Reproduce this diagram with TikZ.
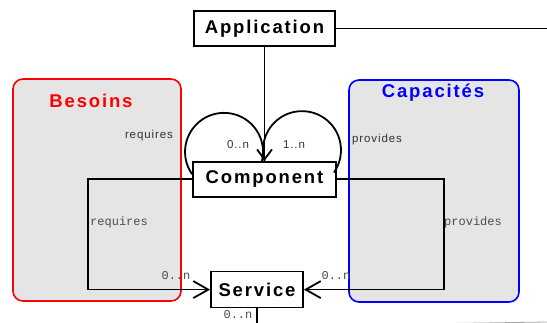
\documentclass[tikz,border=0pt]{standalone}
\usepackage{fontspec}
\setmainfont{Liberation Sans}
\setmonofont{Liberation Mono}
\newfontfamily\classfont[LetterSpace=10]{Liberation Sans}
\newfontfamily\rolefont[LetterSpace=8]{Liberation Sans}
\usetikzlibrary{positioning}
\usetikzlibrary{arrows.meta}

\begin{document}
\begin{tikzpicture}
		[x=1pt, y=1pt,
		class/.style={rectangle, draw=black, line width=1.8pt, fill=white, inner sep=0pt, minimum height=35pt, font=\classfont\bfseries\fontsize{18.5}{21}\selectfont},
		group/.style={rectangle, rounded corners=10pt, line width=1.6pt, fill=black!10, inner sep=0pt, minimum height=222pt},
		title/.style={font=\classfont\bfseries\fontsize{18.5}{21}\selectfont},
		link/.style={line width=1.8pt},
		tip/.style={-{Straight Barb[length=15pt, width=17pt]}},
		role/.style={font=\rolefont\fontsize{11.5}{13}\selectfont, text=black!80},
		mult/.style={font=\ttfamily\fontsize{12}{14}\selectfont, text=black!70, inner sep=1pt}]
		\useasboundingbox (0,0) rectangle (547,-323);
		\node[group, draw=red, minimum width=168pt] (besoins) at (97,-190) {};
		\node[group, draw=blue, minimum width=170pt] (capacites) at (434,-191) {};
		\node[title, text=red] (besoinstitle) at (91,-101) {Besoins};
		\node[title, text=blue] (capacitestitle) at (433,-93) {Capacités};

		\node[class, minimum width=141pt] (app) at (264.5,-28.5) {Application};
		\node[class, minimum width=143pt, below=114pt of app] (comp) {Component};
		\node[class, minimum width=92pt, minimum height=36pt, below=73pt of comp, xshift=-7.5pt] (serv) {Service};
		\coordinate[right=212pt of app.east] (append);
		\coordinate[below=18pt of serv.south] (servbend);
		\coordinate (servend) at (547,-322);

		\draw[link] (app.east) -- (append);
		\draw[link, -{Straight Barb[length=10pt, width=15pt]}] (app) -- (comp);
		\draw[link] (comp.176) arc[start angle=215, end angle=-16, radius=39pt];
		\draw[link] (comp.north) arc[start angle=196, end angle=-35, radius=39pt];
		\draw[link, tip] (comp.west) -- ++(-104pt,0) |- (serv.west);
		\draw[link, tip] (comp.east) -- ++(107pt,0) |- (serv.east);
		\draw[link] (serv.south) -- (servbend);
		\draw[black!35, line width=0.8pt] (servbend) -- (servend);

		\node[role] (req) at (149,-136) {requires};
		\node[role] (prov) at (377,-140) {provides};
		\node[role] (selfreq) at (238,-145) {0..n};
		\node[role] (selfprov) at (294,-145) {1..n};
		\node[mult, anchor=west] (reqlabel) at (89,-222) {requires};
		\node[mult, anchor=west] (provlabel) at (443,-222) {provides};
		\node[mult] (reqmult) at (176,-276) {0..n};
		\node[mult] (provmult) at (336,-276) {0..n};
		\node[mult] (servmult) at (238,-315) {0..n};
	\end{tikzpicture}
\end{document}
